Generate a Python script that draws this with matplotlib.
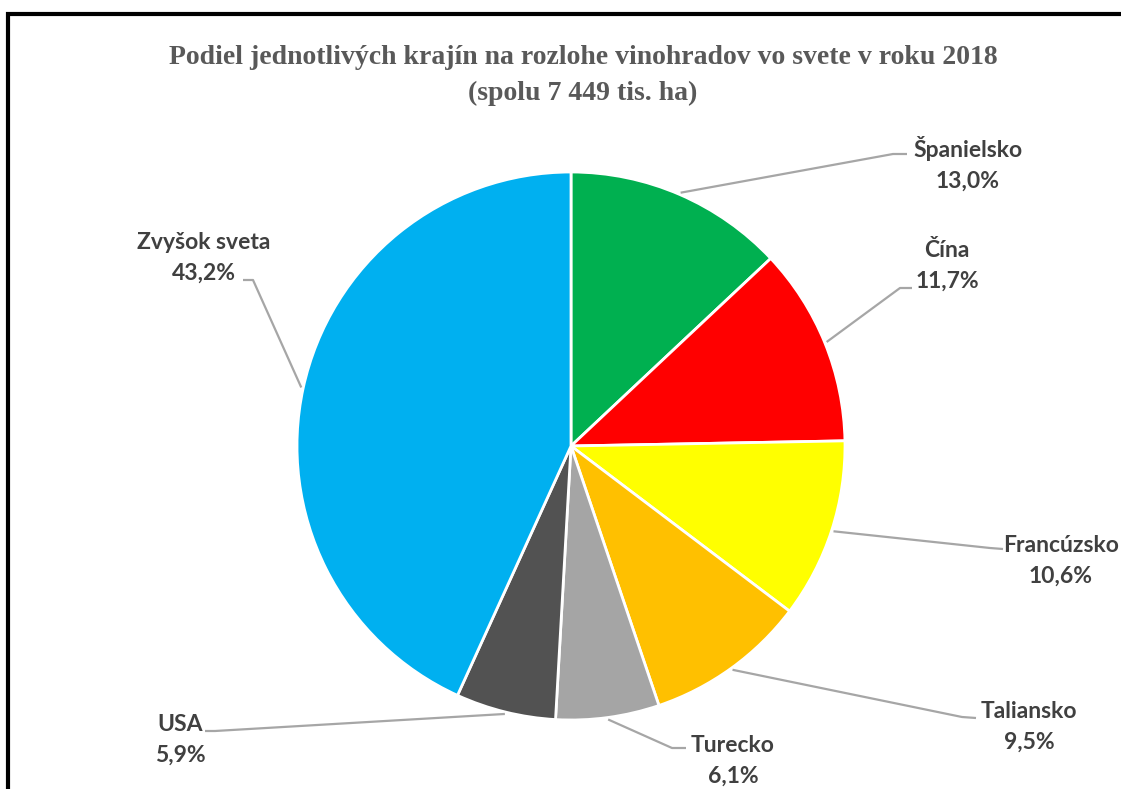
import numpy as np
import matplotlib.pyplot as plt

# podiel krajin na rozlohe vinohradov (%)
countries = ['Španielsko', 'Čína', 'Francúzsko', 'Taliansko', 'Turecko', 'USA', 'Zvyšok sveta']
shares = [13.0, 11.7, 10.6, 9.5, 6.1, 5.9, 43.2]
colors = ['#00b050', '#ff0000', '#ffff00', '#ffc000', '#a5a5a5', '#525252', '#00b0f0']

W, H = 1121, 789
fig = plt.figure(figsize=(W / 100, H / 100), dpi=100)
ax = fig.add_axes([0, 0, 1, 1])

cx, cy, r = 571, H - 446, 274
wedges, _ = ax.pie(shares, colors=colors, startangle=90, counterclock=False,
                   center=(cx, cy), radius=r, frame=True,
                   wedgeprops=dict(edgecolor='white', linewidth=2))
ax.set_xlim(0, W)
ax.set_ylim(0, H)
ax.set_aspect('equal')
ax.axis('off')

# label positions (pixels from top-left): elbow, line end, text center
lab = {
    'Španielsko':   ((893, 154), (907, 154), (968, 164)),
    'Čína':         ((900, 288), (912, 288), (947, 266)),
    'Francúzsko':   ((990, 548), (1003, 549), (1061, 561)),
    'Taliansko':    ((962, 717), (976, 718), (1029, 727)),
    'Turecko':      ((672, 748), (686, 748), (733, 761)),
    'USA':          ((215, 731), (205, 731), (180, 740)),
    'Zvyšok sveta': ((253, 280), (243, 280), (204, 258)),
}

for w, name, val in zip(wedges, countries, shares):
    ang = np.deg2rad((w.theta1 + w.theta2) / 2)
    sx = cx + (r + 2) * np.cos(ang)
    sy = cy + (r + 2) * np.sin(ang)
    elbow, end, txt = lab[name]
    ax.plot([sx, elbow[0], end[0]], [sy, H - elbow[1], H - end[1]],
            color='#a6a6a6', lw=1.6, solid_capstyle='butt')
    label = name + '\n' + ('%.1f%%' % val).replace('.', ',')
    ax.text(txt[0], H - txt[1], label, ha='center', va='center', multialignment='center',
            fontsize=16.5, fontweight='bold', family=['Lato', 'DejaVu Sans'],
            color='#404040', linespacing=1.6)

fig.text(583 / W, 1 - 58 / H, 'Podiel jednotlivých krajín na rozlohe vinohradov vo svete v roku 2018',
         ha='center', va='center', fontsize=20, fontweight='bold',
         family='Liberation Serif', color='#595959')
fig.text(583 / W, 1 - 93 / H, '(spolu 7 449 tis. ha)',
         ha='center', va='center', fontsize=20, fontweight='bold',
         family='Liberation Serif', color='#595959')

# ramcek grafu (lavy a horny okraj)
ax.plot([8, 8, W], [0, H - 14, H - 14], color='black', lw=3, solid_joinstyle='miter')

fig.savefig('out.png', dpi=100)
